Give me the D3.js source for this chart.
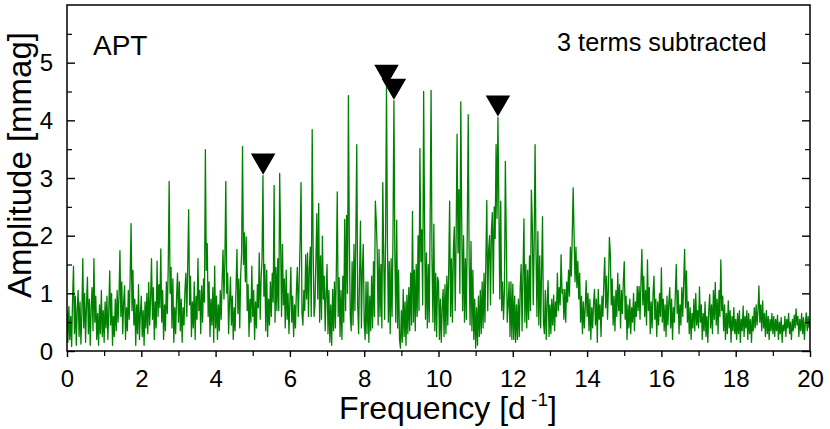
<!DOCTYPE html>
<html><head><meta charset="utf-8">
<script src="https://cdn.jsdelivr.net/npm/d3@7"></script>
<style>
html,body{margin:0;padding:0;background:#fff;}
svg{display:block;font-family:"Liberation Sans",Arial,Helvetica,sans-serif;}
</style></head>
<body>
<svg id="chart" width="830" height="429"></svg>
<script>
// Frequency grid (d^-1): start and step of the sampled amplitude spectrum
const freqStart = 0;
const freqStep = 0.025;
// Amplitude spectrum [mmag], one row per 1 d^-1
const amp00 = [0.70,0.15,0.77,0.20,0.60,0.08,0.90,1.47,0.30,0.95,0.10,0.70,1.05,0.25,0.85,0.12,0.65,1.60,0.40,1.00,0.15,0.80,1.28,0.30,0.90,0.10,0.75,1.10,0.35,1.60,0.50,0.95,0.20,0.65,0.10,0.80,0.30,1.05,0.25,0.70];
const amp01 = [0.15,0.85,0.40,0.95,0.20,0.70,1.39,0.45,1.00,0.10,0.60,0.25,0.90,0.35,1.05,0.50,0.95,1.74,0.60,1.20,0.30,0.85,1.13,0.20,0.75,0.35,1.05,0.55,1.30,2.21,0.70,1.40,0.45,0.90,0.10,0.80,0.30,1.15,0.20,0.65];
const amp02 = [0.95,0.25,0.70,0.10,0.85,0.40,1.00,0.30,1.19,0.45,0.90,1.60,0.55,1.10,0.20,0.85,0.40,1.56,0.60,1.15,0.75,1.77,0.50,1.05,0.20,0.80,0.35,1.20,0.65,1.45,2.94,1.00,1.45,0.40,1.25,0.15,0.75,0.30,0.95,1.35];
const amp03 = [0.50,1.20,0.35,0.90,0.15,0.75,0.45,1.05,1.35,0.60,1.50,2.45,0.80,1.30,0.25,0.85,0.40,1.20,0.20,0.95,0.55,1.60,0.70,1.05,0.30,1.13,0.50,1.25,0.85,3.49,1.40,1.86,0.60,1.20,0.25,0.90,0.45,1.10,0.15,1.47];
const amp04 = [0.40,0.95,0.20,0.80,0.35,1.05,0.55,1.20,1.75,0.90,1.55,2.94,1.00,1.35,0.30,0.85,1.28,0.45,0.95,0.20,0.75,0.35,1.10,1.76,0.65,1.25,0.40,1.30,1.70,3.55,1.50,2.05,1.20,1.98,0.70,1.15,0.25,0.90,0.50,1.47];
const amp05 = [0.60,1.05,0.20,0.85,0.40,1.15,0.75,1.70,0.55,1.25,1.60,3.04,0.95,1.50,0.35,1.40,0.25,0.90,0.45,1.20,0.60,1.35,0.85,2.87,0.50,1.45,0.70,1.60,0.70,3.08,1.90,0.60,1.85,0.80,1.25,0.40,1.40,0.55,1.00,0.30];
const amp06 = [0.85,1.45,0.50,0.95,0.25,0.80,0.40,1.05,1.45,0.60,1.20,1.90,2.92,0.65,0.45,1.05,0.70,1.67,0.90,1.70,0.60,1.45,1.80,0.60,3.84,1.85,0.60,0.80,1.60,2.38,0.90,2.56,0.50,1.65,0.55,1.99,0.90,1.30,0.35,1.00];
const amp07 = [1.50,0.30,1.05,0.15,0.80,0.10,1.07,0.35,1.20,0.40,1.40,2.76,0.60,1.27,0.25,1.05,0.20,1.30,0.50,2.28,0.70,2.35,1.00,4.43,1.90,0.60,0.35,1.55,0.45,1.85,0.70,2.00,3.58,0.80,0.30,1.30,2.25,0.40,1.40,1.85];
const amp08 = [0.50,0.20,1.20,0.30,1.20,0.15,0.95,0.35,1.30,0.40,1.55,0.60,2.60,2.25,1.73,0.45,1.76,0.60,1.50,0.40,2.92,1.65,0.55,1.90,4.58,1.90,0.50,1.55,0.30,1.60,0.60,2.00,4.34,1.70,0.50,2.27,0.40,1.40,0.20,0.05];
const amp09 = [0.70,0.15,1.07,0.25,0.85,0.10,0.97,0.30,1.10,0.35,1.35,0.45,2.42,0.50,1.40,0.35,1.50,0.60,2.00,0.70,3.51,1.55,2.10,0.80,4.50,2.20,0.55,1.70,0.40,1.50,0.50,2.25,4.52,1.60,0.50,2.20,0.35,1.35,0.25,1.28];
const amp10 = [1.20,0.20,0.90,0.15,0.75,1.07,0.25,1.15,0.30,1.30,0.45,1.45,2.60,0.60,1.60,0.50,1.74,2.15,0.70,2.00,3.76,1.70,2.80,1.00,4.32,2.25,0.70,2.00,0.50,1.60,0.55,2.10,4.10,1.55,0.45,1.90,0.35,1.40,0.20,0.90];
const amp11 = [0.05,0.75,0.10,0.95,0.25,1.05,0.30,1.20,0.40,1.35,0.50,1.60,2.61,0.70,1.75,2.00,0.80,2.10,2.40,1.00,2.50,1.95,3.58,2.30,4.05,2.50,0.90,2.60,0.70,1.20,0.55,1.05,3.29,1.90,0.50,0.80,1.20,0.25,1.20,0.20];
const amp12 = [1.16,0.20,0.95,0.15,0.80,0.20,0.90,0.25,1.10,1.50,0.35,1.35,2.29,0.50,1.50,0.40,1.40,0.55,1.65,0.70,2.79,2.20,0.80,1.90,3.58,1.70,0.60,2.07,0.45,1.65,0.40,1.40,2.33,0.50,0.30,1.05,0.20,0.85,1.22,0.25];
const amp13 = [0.80,0.30,0.90,0.45,0.97,0.35,0.85,0.60,1.35,0.70,1.10,0.80,1.67,1.00,1.07,0.55,1.07,0.50,1.20,0.85,1.40,0.95,1.80,1.30,2.00,2.83,1.99,1.20,1.80,1.10,1.56,0.90,1.35,0.50,0.95,0.30,0.85,0.40,0.75,1.22];
const amp14 = [0.60,1.00,0.35,0.90,0.20,0.75,0.40,0.85,1.07,0.45,0.90,0.15,1.07,0.55,0.80,0.25,0.95,0.60,1.20,1.62,0.75,1.30,0.55,1.10,1.97,1.70,0.80,1.25,0.45,0.95,0.35,1.05,0.60,1.35,0.70,1.15,0.40,1.05,0.65,1.20];
const amp15 = [1.55,0.55,0.95,0.20,0.80,0.40,0.90,0.30,0.75,0.50,1.00,0.35,0.85,0.60,1.12,0.70,1.12,0.55,1.20,1.76,0.80,1.30,0.60,1.05,0.45,1.58,0.70,1.10,0.30,0.85,0.40,1.00,1.30,0.55,0.90,0.25,0.85,0.45,1.00,0.60];
const amp16 = [1.44,0.50,0.90,0.35,0.80,0.25,0.95,0.45,0.85,1.10,0.40,0.90,0.20,0.75,0.50,1.00,1.50,0.65,1.05,0.30,0.80,0.45,1.10,0.60,1.20,1.76,0.75,1.39,0.50,0.85,0.30,0.75,0.20,0.65,0.40,0.90,0.35,1.00,0.45,0.70];
const amp17 = [0.40,1.11,0.50,0.80,0.20,0.65,0.35,0.85,0.25,0.60,0.15,0.70,0.98,0.40,0.80,0.30,1.05,0.55,1.19,0.45,0.90,0.30,1.05,0.60,1.58,0.70,0.95,0.35,0.80,0.20,0.65,0.30,0.87,0.40,0.70,0.15,0.60,0.35,0.75,0.30];
const amp18 = [0.55,0.20,0.65,0.30,0.70,0.15,0.55,0.35,0.78,0.25,0.60,0.40,0.70,0.20,0.65,0.30,0.55,0.15,0.60,0.35,0.75,0.40,0.80,0.45,0.70,1.13,0.50,0.80,0.35,0.87,0.40,0.65,0.25,0.70,0.30,0.60,0.20,0.55,0.35,0.65];
const amp19 = [0.30,0.60,0.25,0.55,0.35,0.62,0.20,0.50,0.30,0.58,0.15,0.45,0.35,0.60,0.25,0.55,0.40,0.65,0.30,0.50,0.20,0.55,0.35,0.62,0.40,0.73,0.45,0.60,0.25,0.55,0.35,0.65,0.30,0.58,0.20,0.50,0.66,0.35,0.60,0.40,0.55];
// Marked frequencies (triangles) and their peak amplitudes
const markerFreqs = [5.28, 8.60, 8.80, 11.60];
const markerAmps = [3.04, 4.58, 4.34, 4.05];
// Axis ticks
const xTicks = [0,2,4,6,8,10,12,14,16,18,20];
const xMinorTicks = [1,3,5,7,9,11,13,15,17,19];
const yTicks = [0,1,2,3,4,5];
const yMinorTicks = [0.5,1.5,2.5,3.5,4.5,5.5];

const amps = [].concat(amp00,amp01,amp02,amp03,amp04,amp05,amp06,amp07,amp08,amp09,amp10,amp11,amp12,amp13,amp14,amp15,amp16,amp17,amp18,amp19);
const spectrum = amps.map((a,i)=>({f: freqStart + i*freqStep, a}));

const svg = d3.select("#chart");
const L = 67, R = 810, T = 5, B = 351;
const x = d3.scaleLinear().domain([0,20]).range([L,R]);
const y = d3.scaleLinear().domain([0,6]).range([B,T]);

svg.append("defs").append("clipPath").attr("id","clip").append("rect")
  .attr("x",L).attr("y",T).attr("width",R-L).attr("height",B-T);
const g = svg.append("g");

g.append("path").datum(spectrum)
  .attr("clip-path","url(#clip)")
  .attr("fill","none").attr("stroke","#008000").attr("stroke-width",1.3)
  .attr("stroke-linejoin","round")
  .attr("d", d3.line().x(d=>x(d.f)).y(d=>y(d.a)));

// frame
g.append("rect").attr("x",L).attr("y",T).attr("width",R-L).attr("height",B-T)
  .attr("fill","none").attr("stroke","#000").attr("stroke-width",1.5);

// x axis (ticks outward)
const xAxis = d3.axisBottom(x).tickValues(xTicks).tickSize(6).tickPadding(13).tickFormat(d3.format("d"));
const xa = g.append("g").attr("transform",`translate(0,${B})`).call(xAxis);
xa.select(".domain").remove();
xa.selectAll(".tick line").attr("stroke-width",1.4);
xa.selectAll("text").attr("font-size",24).attr("fill","#000").attr("font-family","Liberation Sans, Arial, sans-serif");
const xam = g.append("g").attr("transform",`translate(0,${B})`)
  .call(d3.axisBottom(x).tickValues(xMinorTicks).tickSize(5).tickFormat(""));
xam.select(".domain").remove();
xam.selectAll(".tick line").attr("stroke-width",1.2);

// y axis left (ticks inward)
const ya = g.append("g").attr("transform",`translate(${L},0)`)
  .call(d3.axisRight(y).tickValues(yTicks).tickSize(8).tickFormat(""));
ya.select(".domain").remove();
ya.selectAll(".tick line").attr("stroke-width",1.4);
const yam = g.append("g").attr("transform",`translate(${L},0)`)
  .call(d3.axisRight(y).tickValues(yMinorTicks).tickSize(5).tickFormat(""));
yam.select(".domain").remove();
yam.selectAll(".tick line").attr("stroke-width",1.2);
g.append("g").selectAll("text").data(yTicks).join("text")
  .attr("x",L-14).attr("y",d=>y(d)+8.5).attr("text-anchor","end")
  .attr("font-size",24).text(d=>d);
// y axis right (ticks inward)
const yr = g.append("g").attr("transform",`translate(${R},0)`)
  .call(d3.axisLeft(y).tickValues(yTicks).tickSize(8).tickFormat(""));
yr.select(".domain").remove();
yr.selectAll(".tick line").attr("stroke-width",1.4);
const yrm = g.append("g").attr("transform",`translate(${R},0)`)
  .call(d3.axisLeft(y).tickValues(yMinorTicks).tickSize(5).tickFormat(""));
yrm.select(".domain").remove();
yrm.selectAll(".tick line").attr("stroke-width",1.2);

// markers
const tri = d3.symbol().type(d3.symbolTriangle).size(260);
g.append("g").selectAll("path").data(markerFreqs).join("path")
  .attr("d", tri)
  .attr("fill","#000")
  .attr("transform",(d,i)=>`translate(${x(d)},${y(markerAmps[i])-15}) rotate(180)`);

// labels
const xl = svg.append("text").attr("x",448).attr("y",419).attr("text-anchor","middle")
  .attr("font-size",32);
xl.append("tspan").text("Frequency [d");
xl.append("tspan").attr("font-size",19).attr("dy",-13).text(" -1");
xl.append("tspan").attr("dy",13).text("]");
svg.append("text").attr("transform",`translate(31,165) rotate(-90)`)
  .attr("text-anchor","middle").attr("font-size",33).text("Amplitude [mmag]");
svg.append("text").attr("x",93).attr("y",55).attr("font-size",28).text("APT");
svg.append("text").attr("x",557).attr("y",51).attr("font-size",25.3).text("3 terms subtracted");
</script>
</body></html>
